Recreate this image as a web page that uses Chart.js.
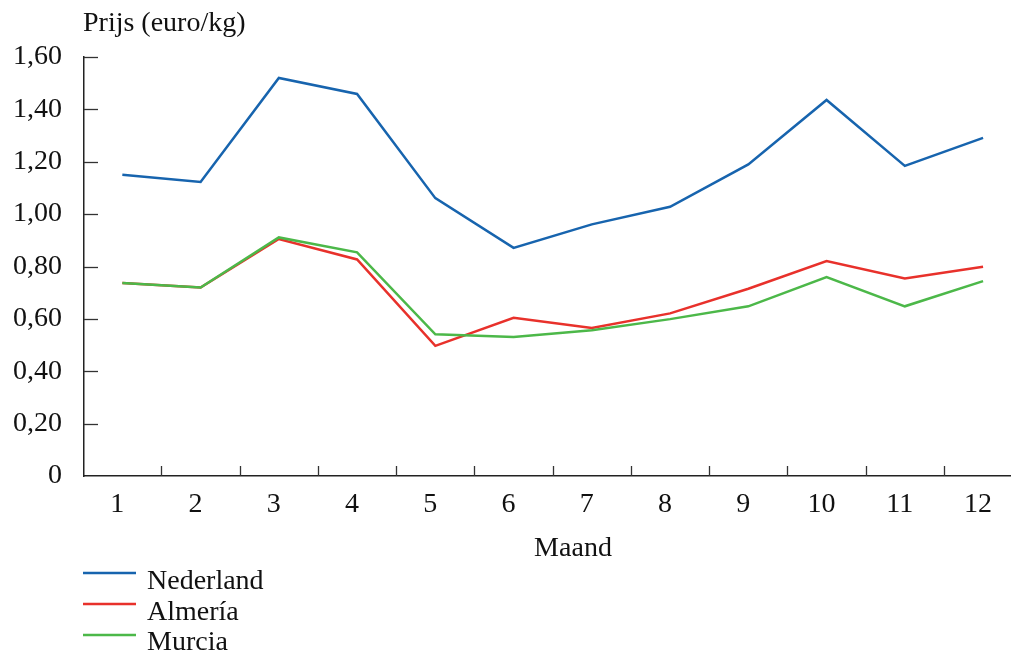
<!DOCTYPE html>
<html>
<head>
<meta charset="utf-8">
<script src="https://cdn.jsdelivr.net/npm/chart.js@4.4.1/dist/chart.umd.min.js"></script>
<style>
html,body{margin:0;padding:0;background:#fff;overflow:hidden}
#wrap{width:1011px;height:654px;position:relative}
</style>
</head>
<body>
<div id="wrap"><canvas id="c"></canvas></div>
<script>
const months = [1, 2, 3, 4, 5, 6, 7, 8, 9, 10, 11, 12];
const yTicks = [0, 0.2, 0.4, 0.6, 0.8, 1.0, 1.2, 1.4, 1.6];
const nederland = [1.150, 1.123, 1.520, 1.459, 1.061, 0.871, 0.961, 1.028, 1.190, 1.436, 1.184, 1.291];
const almeria   = [0.737, 0.720, 0.905, 0.827, 0.497, 0.604, 0.565, 0.621, 0.715, 0.821, 0.754, 0.799];
const murcia    = [0.737, 0.720, 0.911, 0.854, 0.541, 0.531, 0.557, 0.599, 0.648, 0.760, 0.648, 0.744];
const seriesNames = ['Nederland', 'Almería', 'Murcia'];
const seriesColors = ['#1764ae', '#e8312b', '#4cb849'];
const yTitle = 'Prijs (euro/kg)';
const xTitle = 'Maand';

const FONT = '"Liberation Serif", "Times New Roman", serif';
const INK = '#111';

const decor = {
  id: 'decor',
  afterDraw(chart) {
    const {ctx, chartArea: a, scales: {x, y}} = chart;
    ctx.save();
    ctx.strokeStyle = '#333';
    ctx.lineWidth = 1.3;
    yTicks.forEach(v => {
      if (v === 0) return;
      const py = Math.round(y.getPixelForValue(v)) + 0.5;
      ctx.beginPath(); ctx.moveTo(a.left, py); ctx.lineTo(a.left + 14, py); ctx.stroke();
    });
    months.slice(0, -1).forEach(m => {
      const px = Math.round(x.getPixelForValue(m + 0.5)) + 0.5;
      ctx.beginPath(); ctx.moveTo(px, a.bottom); ctx.lineTo(px, a.bottom - 10); ctx.stroke();
    });
    ctx.fillStyle = INK;
    ctx.font = '28px ' + FONT;
    ctx.textBaseline = 'alphabetic';
    ctx.textAlign = 'left';
    ctx.fillText(yTitle, a.left - 1, a.top - 26);
    ctx.textAlign = 'center';
    ctx.fillText(xTitle, 573, a.bottom + 80);
    ctx.textAlign = 'left';
    chart.data.datasets.forEach((ds, i) => {
      const ly = a.bottom + 97 + i * 31;
      ctx.strokeStyle = ds.borderColor;
      ctx.lineWidth = 2.5;
      ctx.beginPath(); ctx.moveTo(a.left - 1, ly); ctx.lineTo(a.left + 52, ly); ctx.stroke();
      ctx.fillStyle = INK;
      ctx.fillText(ds.label, a.left + 63, ly + 16 - i * 0.5);
    });
    ctx.restore();
  }
};

const seriesData = [nederland, almeria, murcia];
new Chart(document.getElementById('c'), {
  type: 'line',
  data: {
    labels: months,
    datasets: seriesData.map((d, i) => ({
      label: seriesNames[i],
      data: d,
      borderColor: seriesColors[i],
      backgroundColor: seriesColors[i],
      borderWidth: 2.5,
      pointRadius: 0,
      tension: 0,
      fill: false,
      order: 2 - i
    }))
  },
  options: {
    responsive: true,
    maintainAspectRatio: false,
    animation: false,
    layout: {padding: {top: 57, left: 0, right: 0, bottom: 0}},
    plugins: {legend: {display: false}, tooltip: {enabled: false}},
    scales: {
      x: {
        type: 'linear',
        min: 0.51,
        max: 12.357,
        afterBuildTicks: s => { s.ticks = months.map(v => ({value: v})); },
        afterFit: s => { s.height = 178; },
        grid: {drawOnChartArea: false, drawTicks: false},
        border: {display: true, color: '#222', width: 1.5},
        ticks: {
          color: INK,
          font: {family: FONT, size: 28},
          padding: 12,
          labelOffset: -5,
          maxRotation: 0,
          autoSkip: false,
          callback: v => String(v)
        }
      },
      y: {
        min: 0,
        max: 1.6,
        afterBuildTicks: s => { s.ticks = yTicks.map(v => ({value: v})); },
        afterFit: s => { s.width = 84; },
        grid: {drawOnChartArea: false, drawTicks: false},
        border: {display: true, color: '#222', width: 1.5},
        ticks: {
          color: INK,
          font: {family: FONT, size: 28},
          padding: 22,
          callback: v => v === 0 ? '0' : v.toFixed(2).replace('.', ',')
        }
      }
    }
  },
  plugins: [decor]
});
</script>
</body>
</html>
